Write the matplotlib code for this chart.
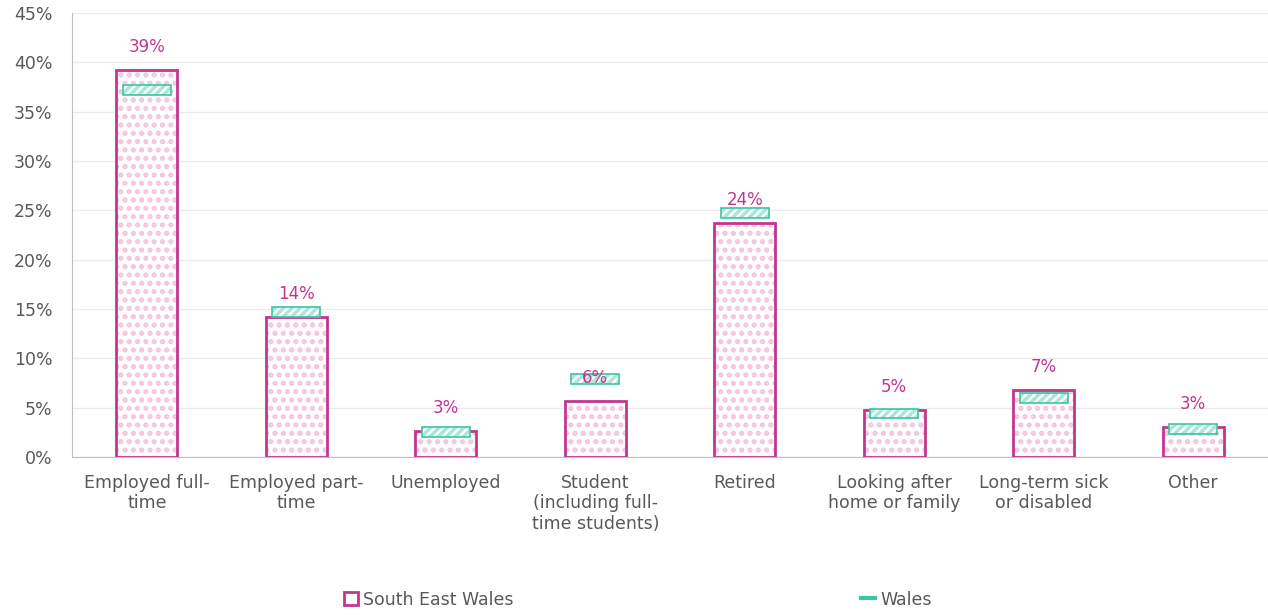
import matplotlib
matplotlib.use('Agg')
import matplotlib.pyplot as plt
from matplotlib.patches import Patch
from matplotlib.lines import Line2D
from matplotlib.ticker import FuncFormatter

categories = ['Employed full-\ntime', 'Employed part-\ntime', 'Unemployed',
              'Student\n(including full-\ntime students)', 'Retired',
              'Looking after\nhome or family', 'Long-term sick\nor disabled', 'Other']
south_east_wales = [39.2, 14.2, 2.6, 5.7, 23.7, 4.8, 6.8, 3.0]
wales = [37.2, 14.7, 2.5, 7.9, 24.7, 4.4, 6.0, 2.8]
labels = ['39%', '14%', '3%', '6%', '24%', '5%', '7%', '3%']

PINK = '#c2378e'
PINK_DOT = '#f2c4df'
TEAL = '#3cc4a4'
TEAL_HATCH = '#a9e8d8'
GREY = '#595959'

plt.rcParams['font.family'] = ['DejaVu Sans']
plt.rcParams['hatch.linewidth'] = 2.5

fig = plt.figure(figsize=(12.68, 6.15), dpi=100)
ax = fig.add_axes([0.0568, 0.257, 0.9432, 0.722])

x = list(range(len(categories)))

# south east wales bars: dotted fill, then outline
ax.bar(x, south_east_wales, width=0.41, color='white', edgecolor=PINK_DOT,
       hatch='..', linewidth=0, zorder=2)
ax.bar(x, south_east_wales, width=0.41, fill=False, edgecolor=PINK,
       linewidth=2, zorder=3)

# wales markers: small hatched boxes
box_h = 1.0
ax.bar(x, [box_h] * len(wales), bottom=[w - box_h / 2 for w in wales], width=0.32,
       color='white', edgecolor=TEAL_HATCH, hatch='////', linewidth=0, zorder=4)
ax.bar(x, [box_h] * len(wales), bottom=[w - box_h / 2 for w in wales], width=0.32,
       fill=False, edgecolor=TEAL, linewidth=1.2, zorder=5)

for xi, v, lab in zip(x, south_east_wales, labels):
    ax.annotate(lab, (xi, v), xytext=(0, 16.5), textcoords='offset points',
                ha='center', va='center', color=PINK, fontsize=12, zorder=6)

ax.set_xlim(-0.5, len(categories) - 0.5)
ax.set_ylim(0, 45)
ax.set_yticks(range(0, 50, 5))
ax.yaxis.set_major_formatter(FuncFormatter(lambda v, p: f'{int(v)}%'))
ax.set_xticks(x)
ax.set_xticklabels(categories)
ax.tick_params(axis='both', length=0, colors=GREY, labelsize=12.5)
ax.tick_params(axis='x', pad=12)
ax.tick_params(axis='y', pad=14)
ax.grid(axis='y', color='#ebebeb', linewidth=1)
ax.set_axisbelow(True)
for s in ['top', 'right']:
    ax.spines[s].set_visible(False)
ax.spines['left'].set_color('#bfbfbf')
ax.spines['bottom'].set_color('#bfbfbf')

handles = [
    Patch(facecolor='white', edgecolor=PINK, linewidth=2),
    Line2D([], [], color=TEAL, linewidth=3),
]
fig.legend(handles, ['South East Wales', 'Wales'], loc='center',
           bbox_to_anchor=(0.503, 0.025), ncol=2, frameon=False,
           fontsize=12.5, labelcolor=GREY, handlelength=0.8, handleheight=0.8,
           handletextpad=0.3, columnspacing=20)

fig.savefig('out.png', dpi=100)
